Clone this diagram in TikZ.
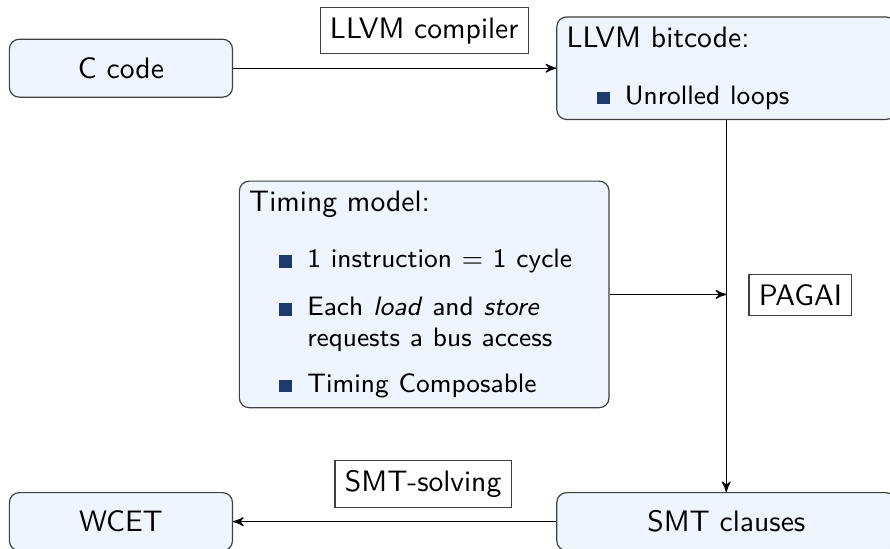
\documentclass[tikz,border=0pt]{standalone}
\usepackage{tikz}
\usetikzlibrary{shapes,arrows, positioning}
\renewcommand{\familydefault}{\sfdefault}
\definecolor{boxfill}{RGB}{238,245,254}
\definecolor{itemblue}{RGB}{31,58,110}
\newcommand{\bitem}{\hspace*{10.2pt}\textcolor{itemblue}{\rule{4.35pt}{4.25pt}}\hspace{5.1pt}}
\tikzstyle{rnode} = [rectangle, rounded corners=3.3pt, draw=black!75, fill=boxfill, minimum width=2.649cm, minimum height=0.688cm]
\tikzstyle{lnode} = [rnode, align=left]
\tikzstyle{tnode} = [rectangle, draw=black!75]
\tikzstyle{line} = [draw, -stealth']

\begin{document}
\begin{tikzpicture}
				\useasboundingbox (0,0) rectangle (10.568,6.518);
				\node [rnode] (ccode) at (1.436, 5.708) {C code};
				\node [lnode, text width=3.79cm] (bitcode) at (8.624, 5.708) {LLVM bitcode:\\[7.3pt]
					{\small\bitem Unrolled loops}};
				\node [lnode, text width=4.155cm] (timing) at (5.037, 3.022) {Timing model:\\[6.95pt]
					{\small\bitem 1 instruction $=$ 1 cycle}\\[4.3pt]
					{\small\bitem Each \textit{load} and \textit{store}}\\[-1.54pt]
					{\small\hspace*{19.6pt}requests a bus access}\\[3.36pt]
					{\small\bitem Timing Composable}};
				\node [rnode, minimum width=4.024cm] (smt) at (8.624, 0.324) {SMT clauses};
				\node [rnode] (wcet) at (1.436, 0.324) {WCET};

				\node [tnode] (llvm) at (5.037, 6.153) {LLVM compiler};
				\node [tnode] (pagai) at (9.505, 3.016) {PAGAI};
				\node [tnode] (solving) at (5.024, 0.766) {SMT-solving};
				\coordinate (join) at (bitcode.south |- timing.east);

				\path [line] (ccode) -- (bitcode);
				\path [line] (bitcode) -- (smt);
				\path [line] (timing) -- (join);
				\path [line] (smt) -- (wcet);
			\end{tikzpicture}
\end{document}
